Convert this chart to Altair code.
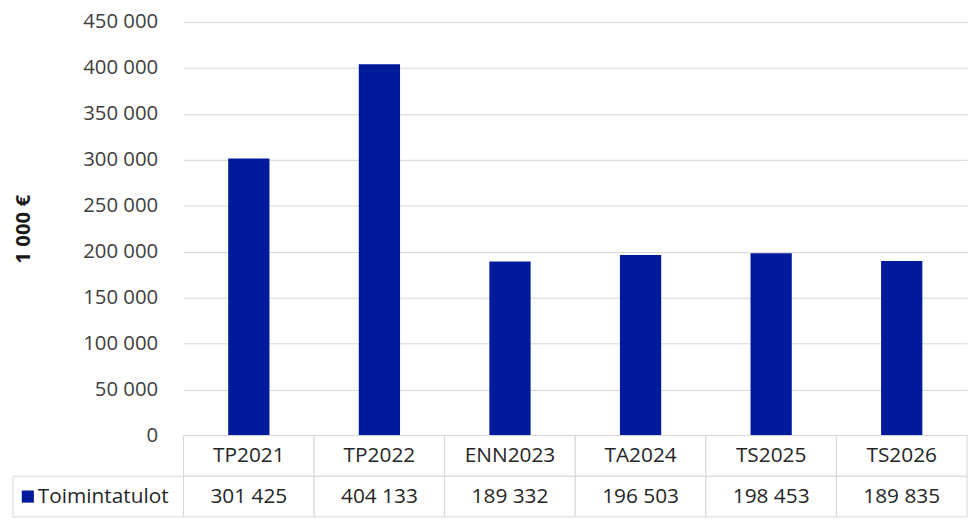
import altair as alt
import pandas as pd

categories = ["TP2021", "TP2022", "ENN2023", "TA2024", "TS2025", "TS2026"]
values = [301425, 404133, 189332, 196503, 198453, 189835]
series_name = "Toimintatulot"
y_ticks = [0, 50000, 100000, 150000, 200000, 250000, 300000, 350000, 400000, 450000]
y_title = "1 000 €"

BLUE = "#001a9c"
GRID = "#d6d6d6"
FONT = "Open Sans"
W, H = 790, 417
ROW_H = 82

df = pd.DataFrame({"category": categories, "value": values})

x_scale = alt.Scale(domain=categories, paddingInner=0, paddingOuter=0)

bars = alt.Chart(df).mark_bar(color=BLUE, width=alt.RelativeBandSize(0.316)).encode(
    x=alt.X("category:N", sort=categories, scale=x_scale, axis=None),
    y=alt.Y(
        "value:Q",
        scale=alt.Scale(domain=[0, 450000], nice=False),
        axis=alt.Axis(
            values=y_ticks,
            labelExpr="replace(format(datum.value, ','), ',', ' ')",
            title=y_title,
            domain=False,
            ticks=False,
            grid=True,
            gridColor=GRID,
            gridWidth=1,
            labelFont=FONT,
            labelFontSize=20.5,
            labelColor="#404040",
            labelPadding=26,
            titleFont=FONT,
            titleFontSize=20.5,
            titleFontWeight="bold",
            titleColor="#1a1a1a",
            titleAngle=270,
            titleX=-161,
            titleY=H / 2,
            titleAlign="center",
            titleBaseline="middle",
        ),
    ),
).properties(width=W, height=H)

fmt_vals = [f"{v:,}".replace(",", " ") for v in values]
rows = pd.DataFrame({
    "category": categories * 2,
    "row": ["header"] * len(categories) + ["value"] * len(categories),
    "text": categories + fmt_vals,
})
row_scale = alt.Scale(domain=["header", "value"], paddingInner=0, paddingOuter=0)

cells = alt.Chart(rows).mark_rect(fill="white", stroke=GRID, strokeWidth=1).encode(
    x=alt.X("category:N", sort=categories, scale=x_scale, axis=None),
    y=alt.Y("row:N", scale=row_scale, axis=None),
)
cell_text = alt.Chart(rows).mark_text(font=FONT, fontSize=21, color="#262626").encode(
    x=alt.X("category:N", sort=categories, scale=x_scale, axis=None),
    y=alt.Y("row:N", scale=row_scale, axis=None),
    text="text:N",
)

legend_df = pd.DataFrame({"row": ["value"], "label": [series_name]})
legend_rect = alt.Chart(legend_df).mark_rect(fill="white", stroke=GRID, strokeWidth=1).encode(
    x=alt.value(-172), x2=alt.value(0),
    y=alt.Y("row:N", scale=row_scale, axis=None),
)
legend_sym = alt.Chart(legend_df).mark_point(shape="square", filled=True, size=150, color=BLUE, opacity=1).encode(
    x=alt.value(-157),
    y=alt.Y("row:N", scale=row_scale, axis=None),
)
legend_text = alt.Chart(legend_df).mark_text(font=FONT, fontSize=21, color="#262626", align="left").encode(
    x=alt.value(-147),
    y=alt.Y("row:N", scale=row_scale, axis=None),
    text="label:N",
)

table = alt.layer(cells, cell_text, legend_rect, legend_sym, legend_text).properties(width=W, height=ROW_H)

chart = alt.vconcat(bars, table, spacing=0, bounds="flush").resolve_scale(
    x="independent", y="independent"
).properties(
    padding={"left": 4, "top": 2, "right": 0, "bottom": 0},
    background="white",
).configure_view(stroke=None)

chart.save("out.html", embed_options={"renderer": "svg", "actions": False})
